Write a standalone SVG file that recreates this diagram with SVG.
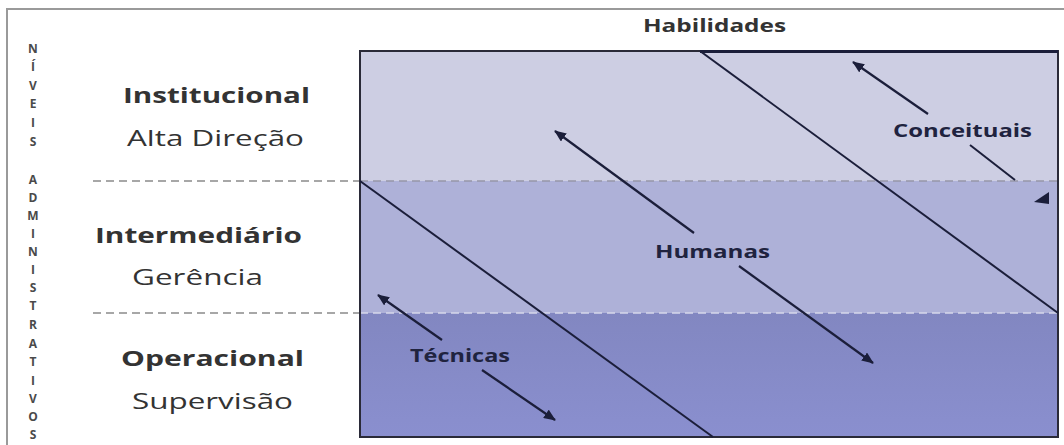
<svg xmlns="http://www.w3.org/2000/svg" width="1064" height="445" viewBox="0 0 1064 445">
  <defs>
    <linearGradient id="gBottom" x1="0" y1="0" x2="0" y2="1">
      <stop offset="0" stop-color="#8287c1"/>
      <stop offset="1" stop-color="#8a8fcf"/>
    </linearGradient>
    <marker id="ah" viewBox="0 0 12 10" refX="11" refY="5" markerWidth="12" markerHeight="10" markerUnits="userSpaceOnUse" orient="auto">
      <path d="M0,0 L12,5 L0,10 z" fill="#1b1e3a"/>
    </marker>
    <style>
      .lvl { font-family: "Open Sans", "Noto Sans", sans-serif; fill: #333333; }
      .bold { font-weight: bold; font-size: 22px; }
      .reg { font-weight: normal; font-size: 21px; }
      .side { font-family: "Open Sans", "Noto Sans", sans-serif; font-weight: bold; font-size: 12px; fill: #4a4a4a; text-anchor: middle; }
      .skill { font-family: "Open Sans", "Noto Sans", sans-serif; font-weight: bold; font-size: 18px; fill: #20233f; }
      .diag { stroke: #1b1e3a; stroke-width: 2; fill: none; }
      .arr { stroke: #1b1e3a; stroke-width: 2.2; fill: none; marker-end: url(#ah); }
      .dash { stroke: #8a8a8a; stroke-width: 1.5; stroke-dasharray: 8 5; fill: none; }
    </style>
  </defs>

  <rect x="0" y="0" width="1064" height="445" fill="#ffffff"/>
  <path d="M7,460 L7,9 L1064,9" fill="none" stroke="#9a9a9a" stroke-width="2"/>

  <g id="title">
    <text class="skill" x="643" y="32" textLength="143" lengthAdjust="spacingAndGlyphs" style="fill:#333333">Habilidades</text>
  </g>

  <g id="side-label">
    <text class="side" x="33" y="53">N</text>
    <text class="side" x="33" y="71">Í</text>
    <text class="side" x="33" y="90">V</text>
    <text class="side" x="33" y="108">E</text>
    <text class="side" x="33" y="127">I</text>
    <text class="side" x="33" y="146">S</text>
    <text class="side" x="33" y="184">A</text>
    <text class="side" x="33" y="202">D</text>
    <text class="side" x="33" y="220">M</text>
    <text class="side" x="33" y="238">I</text>
    <text class="side" x="33" y="256">N</text>
    <text class="side" x="33" y="274">I</text>
    <text class="side" x="33" y="292">S</text>
    <text class="side" x="33" y="310">T</text>
    <text class="side" x="33" y="329">R</text>
    <text class="side" x="33" y="348">A</text>
    <text class="side" x="33" y="366">T</text>
    <text class="side" x="33" y="385">I</text>
    <text class="side" x="33" y="403">V</text>
    <text class="side" x="33" y="421">O</text>
    <text class="side" x="33" y="439">S</text>
  </g>

  <g id="band-institucional">
    <rect x="360" y="51" width="698" height="130" fill="#cdcee3"/>
  </g>
  <g id="band-intermediario">
    <rect x="360" y="181" width="698" height="132" fill="#aeb1d8"/>
  </g>
  <g id="band-operacional">
    <rect x="360" y="313" width="698" height="124" fill="url(#gBottom)"/>
  </g>

  <g id="level-institucional">
    <text class="lvl bold" x="123" y="103" textLength="187" lengthAdjust="spacingAndGlyphs">Institucional</text>
    <text class="lvl reg" x="127" y="146" textLength="177" lengthAdjust="spacingAndGlyphs">Alta Direção</text>
  </g>
  <g id="level-intermediario">
    <text class="lvl bold" x="95" y="243" textLength="207" lengthAdjust="spacingAndGlyphs">Intermediário</text>
    <text class="lvl reg" x="132" y="285" textLength="131" lengthAdjust="spacingAndGlyphs">Gerência</text>
  </g>
  <g id="level-operacional">
    <text class="lvl bold" x="121" y="366" textLength="183" lengthAdjust="spacingAndGlyphs">Operacional</text>
    <text class="lvl reg" x="132" y="409" textLength="161" lengthAdjust="spacingAndGlyphs">Supervisão</text>
  </g>

  <g id="separators">
    <line class="dash" x1="93" y1="181" x2="360" y2="181"/>
    <line class="dash" x1="360" y1="181" x2="1058" y2="181" style="stroke:#9696a8"/>
    <line class="dash" x1="93" y1="313" x2="360" y2="313"/>
    <line class="dash" x1="360" y1="313" x2="1058" y2="313" style="stroke:#d6d7ea"/>
  </g>

  <g id="frame">
    <rect x="360" y="51" width="698" height="386" fill="none" stroke="#2a2a38" stroke-width="2"/>
    <line x1="700" y1="51.5" x2="1058" y2="51.5" stroke="#1b1e3a" stroke-width="3"/>
  </g>

  <g id="skill-labels">
    <text class="skill" x="893" y="137" textLength="139" lengthAdjust="spacingAndGlyphs">Conceituais</text>
    <text class="skill" x="655" y="258" textLength="115" lengthAdjust="spacingAndGlyphs">Humanas</text>
    <text class="skill" x="410" y="362" textLength="100" lengthAdjust="spacingAndGlyphs">Técnicas</text>
  </g>

  <g id="connectors">
    <line class="diag" x1="360" y1="181" x2="713" y2="437"/>
    <line class="diag" x1="700" y1="51" x2="1058" y2="313"/>
    <line class="arr" x1="928" y1="114" x2="853" y2="62"/>
    <line class="diag" x1="970" y1="145" x2="1015" y2="180"/>
    <polygon points="1034,202 1049,192 1049,204" fill="#1b1e3a"/>
    <line class="arr" x1="694" y1="233" x2="555" y2="131"/>
    <line class="arr" x1="739" y1="266" x2="873" y2="363"/>
    <line class="arr" x1="442" y1="340" x2="378" y2="295"/>
    <line class="arr" x1="482" y1="370" x2="555" y2="420"/>
  </g>
</svg>
